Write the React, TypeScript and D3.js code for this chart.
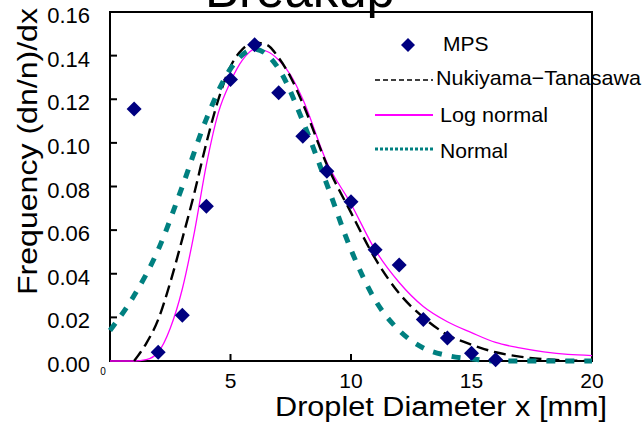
import React from "react";
import * as d3 from "d3";

const mpsX = [1, 2, 3, 4, 5, 6, 7, 8, 9, 10, 11, 12, 13, 14, 15, 16];
const mpsY = [0.1155, 0.004, 0.021, 0.071, 0.129, 0.145, 0.123, 0.103, 0.087, 0.073, 0.051, 0.044, 0.019, 0.0105, 0.0036, 0.0006];

const ntX = [1.0, 1.5, 2, 2.5, 3, 3.5, 4, 4.5, 5, 5.5, 6, 6.5, 7, 7.5, 8, 9, 10, 11, 12, 13, 14, 15, 16, 17, 18, 19, 20];
const ntY = [0, 0.008, 0.019, 0.036, 0.056, 0.077, 0.1, 0.12, 0.135, 0.143, 0.146, 0.145, 0.139, 0.13, 0.118, 0.09, 0.068, 0.047, 0.031, 0.02, 0.012, 0.0075, 0.004, 0.002, 0.0008, 0.0002, 0];

const lnX = [0, 1, 1.5, 2, 2.5, 3, 3.5, 4, 4.5, 5, 5.5, 6, 6.5, 7, 7.5, 8, 9, 10, 11, 12, 13, 14, 15, 16, 17, 18, 19, 20];
const lnY = [0, 0, 0.0006, 0.004, 0.015, 0.033, 0.059, 0.09, 0.114, 0.128, 0.138, 0.143, 0.142, 0.138, 0.131, 0.12, 0.091, 0.072, 0.051, 0.036, 0.025, 0.018, 0.013, 0.0085, 0.006, 0.0042, 0.003, 0.0025];

const nX = [0, 1, 2, 3, 4, 5, 6, 7, 8, 9, 10, 11, 12, 13, 14, 15, 16, 17, 18, 19, 20];
const nY = [0.014, 0.03, 0.051, 0.08, 0.111, 0.134, 0.143, 0.134, 0.11, 0.081, 0.051, 0.028, 0.014, 0.006, 0.0025, 0.001, 0, 0, 0, 0, 0];

const xTicks = [5, 10, 15, 20];
const yTicks = [0, 0.02, 0.04, 0.06, 0.08, 0.1, 0.12, 0.14, 0.16];

const legendItems = ["MPS", "Nukiyama−Tanasawa", "Log normal", "Normal"];
const titleText = "Breakup";
const xTitle = "Droplet Diameter x [mm]";
const yTitle = "Frequency (dn/n)/dx";

const FONT = "'Liberation Sans', Arial, sans-serif";

export default function App() {
  const x = d3.scaleLinear().domain([0, 20]).range([110, 592]);
  const y = d3.scaleLinear().domain([0, 0.16]).range([361, 12]);
  const line = d3
    .line<[number, number]>()
    .x((d) => x(d[0]))
    .y((d) => y(d[1]))
    .curve(d3.curveMonotoneX);
  const ntPath = line(ntX.map((v, i) => [v, ntY[i]]));
  const lnPath = line(lnX.map((v, i) => [v, lnY[i]]));
  const nPath = line(nX.map((v, i) => [v, nY[i]]));
  const diamond = (cx: number, cy: number, r: number) =>
    `M${cx},${cy - r}L${cx + r},${cy}L${cx},${cy + r}L${cx - r},${cy}Z`;

  return (
    <svg
      width={644}
      height={426}
      style={{ position: "absolute", left: 0, top: 0, background: "#fff" }}
      fontFamily={FONT}
    >
      <rect x={0} y={0} width={644} height={426} fill="#fff" />
      <text x={300} y={7} fontSize={51} textAnchor="middle" fill="#000" textLength={190} lengthAdjust="spacingAndGlyphs">
        {titleText}
      </text>
      {/* frame */}
      <rect x={110} y={12} width={482} height={349} fill="none" stroke="#000" strokeWidth={2} />
      {/* y ticks */}
      {yTicks.map((t) => (
        <g key={"y" + t}>
          <line x1={110} x2={117} y1={y(t)} y2={y(t)} stroke="#000" strokeWidth={2} />
          <text x={90} y={y(t) + 11} fontSize={22} textAnchor="end" fill="#000">
            {t.toFixed(2)}
          </text>
        </g>
      ))}
      {/* x ticks */}
      {xTicks.map((t) => (
        <g key={"x" + t}>
          <line x1={x(t)} x2={x(t)} y1={361} y2={354} stroke="#000" strokeWidth={2} />
          <text x={x(t)} y={388} fontSize={21} textAnchor="middle" fill="#000">
            {t}
          </text>
        </g>
      ))}
      <text x={103} y={375} fontSize={10} textAnchor="middle" fill="#000">
        0
      </text>
      {/* curves */}
      <path d={lnPath || ""} fill="none" stroke="#ff00ff" strokeWidth={1.3} />
      <path d={ntPath || ""} fill="none" stroke="#000" strokeWidth={2.4} strokeDasharray="12,6" />
      <path d={nPath || ""} fill="none" stroke="#008080" strokeWidth={5} strokeDasharray="9,10" />
      {/* markers */}
      {mpsX.map((v, i) => (
        <path key={"m" + i} d={diamond(x(v), y(mpsY[i]), 7.5)} fill="#000080" />
      ))}
      {/* legend */}
      <path d={diamond(408, 45, 7)} fill="#000080" />
      <text x={443} y={51} fontSize={21} fill="#000">{legendItems[0]}</text>
      <line x1={375} x2={433} y1={80} y2={80} stroke="#000" strokeWidth={1.5} strokeDasharray="5,3" />
      <text x={436} y={85} fontSize={21} fill="#000" textLength={205} lengthAdjust="spacingAndGlyphs">{legendItems[1]}</text>
      <line x1={375} x2={433} y1={115} y2={115} stroke="#ff00ff" strokeWidth={1.8} />
      <text x={440} y={122} fontSize={21} fill="#000" textLength={108} lengthAdjust="spacingAndGlyphs">{legendItems[2]}</text>
      <line x1={375} x2={433} y1={149} y2={149} stroke="#008080" strokeWidth={3} strokeDasharray="3,2" />
      <text x={440} y={158} fontSize={21} fill="#000" textLength={68} lengthAdjust="spacingAndGlyphs">{legendItems[3]}</text>
      {/* axis titles */}
      <text x={275} y={416} fontSize={27} fill="#000" textLength={332} lengthAdjust="spacingAndGlyphs">
        {xTitle}
      </text>
      <text
        transform="translate(37,151.5) rotate(-90)"
        fontSize={28}
        textAnchor="middle"
        fill="#000"
        textLength={287}
        lengthAdjust="spacingAndGlyphs"
      >
        {yTitle}
      </text>
    </svg>
  );
}
